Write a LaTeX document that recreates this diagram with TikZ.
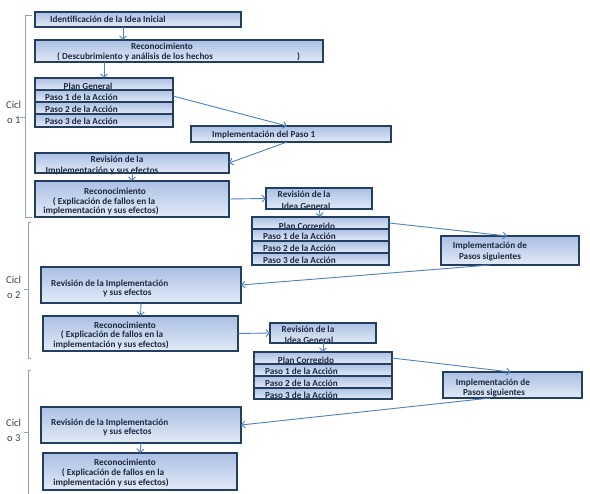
\documentclass[tikz,border=0pt]{standalone}
\usepackage{fontspec}
\setmainfont{Carlito}
\usetikzlibrary{arrows.meta,fit}
\definecolor{bord}{HTML}{243E5F}
\definecolor{ftop}{HTML}{ABC0E4}
\definecolor{fbot}{HTML}{E2EAF6}
\definecolor{arrc}{HTML}{4F81BD}
\definecolor{txtc}{HTML}{1B2940}
\definecolor{brc}{HTML}{8DA3C0}
\tikzset{
 box/.style={draw=bord, line width=2.1pt, top color=ftop, bottom color=fbot, inner sep=0pt, outer sep=0pt, rectangle},
 txt/.style={font=\fontsize{9.2}{10}\selectfont\bfseries, text=txtc, inner sep=0pt, anchor=base west},
 ctxt/.style={txt, anchor=base},
 arr/.style={draw=arrc, line width=0.9pt, -{Straight Barb[length=3.5pt,width=7pt]}},
 brk/.style={draw=brc, line width=0.8pt},
 cyc/.style={font=\fontsize{10.5}{12}\selectfont, text=black!75, inner sep=0pt, anchor=base west},
 rebord/.style={draw=bord, line width=2.1pt}
}
\newcommand\bx[5]{\node[box, fit={(#2,#3) (#4,#5)}] (#1) {};}
\begin{document}
\begin{tikzpicture}[x=1pt,y=-1pt]
\useasboundingbox[fill=white] (0,0) rectangle (590,494);
% ---------- cycle 1
\bx{idea}{35}{12}{241}{27}
\node[txt] (tidea) at (50,23) {Identificación de la Idea Inicial};
\bx{rec}{35}{40}{323}{62}
\node[ctxt] (trec) at (162,50) {Reconocimiento};
\node[txt] (trecb) at (57,60) {( Descubrimiento y análisis de los hechos};
\node[txt] (trecc) at (297,60) {)};
\bx{pg}{35}{78}{173}{90}
\node[ctxt] (tpg) at (88,89.5) {Plan General};
\bx{pa1}{35}{90}{173}{102}
\node[txt] (tpa1) at (45,101) {Paso 1 de la Acción};
\bx{pa2}{35}{102}{173}{114}
\node[txt] (tpa2) at (45,113) {Paso 2 de la Acción};
\bx{pa3}{35}{114}{173}{127}
\node[txt] (tpa3) at (45,125) {Paso 3 de la Acción};
\bx{imp1}{191}{126}{391}{142}
\node[txt] (timp1) at (212,138) {Implementación del Paso 1};
\bx{rev1}{35}{153}{229}{173}
\node[ctxt] (trev1a) at (117,163) {Revisión de la};
\node[ctxt] (trev1b) at (102,174) {Implementación y sus efectos};
\draw[rebord] (rev1.south west) -- (rev1.south east);
\bx{rec1}{35}{181}{229}{217}
\node[ctxt] (trec1a) at (115,195) {Reconocimiento};
\node[ctxt] (trec1b) at (104,205) {( Explicación de fallos en la};
\node[ctxt] (trec1c) at (101,214) {implementación y sus efectos)};
\bx{ig1}{266}{188}{372}{209}
\node[ctxt] (tig1a) at (304,198) {Revisión de la};
\node[ctxt] (tig1b) at (306,209.5) {Idea General};
\draw[rebord] (ig1.south west) -- (ig1.south east);
\bx{pc1}{252}{217}{389}{229}
\node[ctxt] (tpc1) at (307,229.5) {Plan Corregido};
\bx{pb1}{252}{229}{389}{241}
\node[txt] (tpb1) at (263,240) {Paso 1 de la Acción};
\bx{pb2}{252}{241}{389}{253}
\node[txt] (tpb2) at (263,252) {Paso 2 de la Acción};
\bx{pb3}{252}{253}{389}{265}
\node[txt] (tpb3) at (263,264) {Paso 3 de la Acción};
\bx{ip1}{441}{236}{579}{265}
\node[ctxt] (tip1a) at (490,249) {Implementación de};
\node[ctxt] (tip1b) at (490,260) {Pasos siguientes};
% ---------- cycle 2
\bx{rev2}{41}{267}{241}{303}
\node[txt] (trev2a) at (51,287) {Revisión de la Implementación};
\node[txt] (trev2b) at (103,296) {y sus efectos};
\bx{rec2}{43}{316}{238}{351}
\node[ctxt] (trec2a) at (125,329) {Reconocimiento};
\node[ctxt] (trec2b) at (112,338) {( Explicación de fallos en la};
\node[ctxt] (trec2c) at (111,348) {implementación y sus efectos)};
\bx{ig2}{270}{323}{376}{343}
\node[ctxt] (tig2a) at (308,333) {Revisión de la};
\node[ctxt] (tig2b) at (309,344) {Idea General};
\draw[rebord] (ig2.south west) -- (ig2.south east);
\bx{pc2}{254}{352}{392}{364}
\node[ctxt] (tpc2) at (306,363.5) {Plan Corregido};
\bx{pd1}{254}{364}{392}{376}
\node[txt] (tpd1) at (265,375) {Paso 1 de la Acción};
\bx{pd2}{254}{376}{392}{388}
\node[txt] (tpd2) at (265,387) {Paso 2 de la Acción};
\bx{pd3}{254}{388}{392}{399}
\node[txt] (tpd3) at (265,398.5) {Paso 3 de la Acción};
\bx{ip2}{443}{372}{582}{398}
\node[ctxt] (tip2a) at (493,386) {Implementación de};
\node[ctxt] (tip2b) at (494,396) {Pasos siguientes};
% ---------- cycle 3
\bx{rev3}{41}{407}{241}{443}
\node[txt] (trev3a) at (51,426) {Revisión de la Implementación};
\node[txt] (trev3b) at (103,435) {y sus efectos};
\bx{rec3}{43}{453}{237}{490}
\node[ctxt] (trec3a) at (125,466) {Reconocimiento};
\node[ctxt] (trec3b) at (113,476) {( Explicación de fallos en la};
\node[ctxt] (trec3c) at (111,486) {implementación y sus efectos)};
% ---------- arrows
\draw[arr] ([xshift=-15pt]idea.south) -- ([xshift=-56pt]rec.north);
\draw[arr] ([xshift=-75pt]rec.south) -- (pg.north);
\draw[arr] (pa1.east) -- ([xshift=-4pt]imp1.north);
\draw[arr] ([xshift=-4pt]imp1.south) -- (rev1.east);
\draw[arr] (rev1.south) -- (rec1.north);
\draw[arr] (rec1.east) -- (ig1.west);
\draw[arr] (ig1.south) -- (pc1.north);
\draw[arr] (pc1.east) -- ([xshift=-3pt]ip1.north);
\draw[arr] ([xshift=-20pt]ip1.south) -- (rev2.east);
\draw[arr] (rev2.south) -- (rec2.north);
\draw[arr] (rec2.east) -- (ig2.west);
\draw[arr] (ig2.south) -- (pc2.north);
\draw[arr] (pc2.east) -- ([xshift=-2pt]ip2.north);
\draw[arr] ([xshift=-22pt]ip2.south) -- (rev3.east);
\draw[arr] (rev3.south) -- (rec3.north);
% ---------- cycle brackets
\draw[brk] (32,15) -- (25,15) -- (25,217) -- (32,217);
\draw[brk] (25,117) -- (20,117);
\draw[brk] (31,222) -- (28,222) -- (28,358) -- (31,358);
\draw[brk] (28,289) -- (24,289);
\draw[brk] (31,370) -- (28,370) -- (28,494);
\draw[brk] (28,432) -- (24,432);
\node[cyc] (c1a) at (6,109) {Cicl};
\node[cyc] (c1b) at (7,124) {o 1};
\node[cyc] (c2a) at (6,284) {Cicl};
\node[cyc] (c2b) at (7,299) {o 2};
\node[cyc] (c3a) at (6,427) {Cicl};
\node[cyc] (c3b) at (7,442) {o 3};
\end{tikzpicture}
\end{document}
